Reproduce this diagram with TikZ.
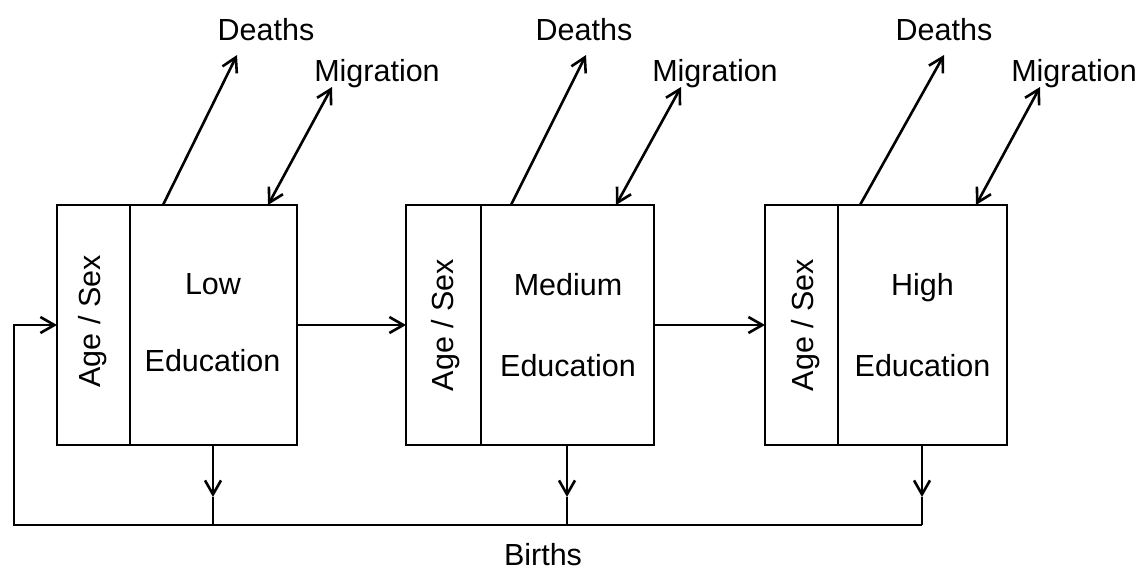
\documentclass[tikz,border=0pt]{standalone}
\usepackage{fontspec}
\setmainfont{Liberation Sans}
\usetikzlibrary{arrows.meta}
\begin{document}
\begin{tikzpicture}[x=1pt,y=-1pt,
  lbl/.style={inner sep=0pt,font=\fontsize{30.5}{36}\selectfont},
  boxpart/.style={draw,line width=1.4pt,minimum height=240pt,inner sep=0pt,outer sep=0pt,anchor=west},
  conn/.style={line width=2.6pt},
  tip/.style={-{Straight Barb[length=14pt,width=16pt]}},
  dtip/.style={{Straight Barb[length=14pt,width=16pt]}-{Straight Barb[length=14pt,width=16pt]}}
]
\useasboundingbox (0,0) rectangle (1142,570);
% boxes
\node[boxpart,minimum width=73pt] (a1) at (57,325) {};
\node[boxpart,minimum width=167pt] (e1) at (a1.east) {};
\node[boxpart,minimum width=75pt] (a2) at (406,325) {};
\node[boxpart,minimum width=173pt] (e2) at (a2.east) {};
\node[boxpart,minimum width=73pt] (a3) at (765,325) {};
\node[boxpart,minimum width=169pt] (e3) at (a3.east) {};
% box texts
\node[lbl,rotate=90] (as1) at (92.5,321.5) {Age / Sex};
\node[lbl,rotate=90] (as2) at (446,325) {Age / Sex};
\node[lbl,rotate=90] (as3) at (806,325) {Age / Sex};
\node[lbl,anchor=base] (t1a) at (213,294) {Low};
\node[lbl,anchor=base] (t1b) at (212.5,371) {Education};
\node[lbl,anchor=base] (t2a) at (568,295) {Medium};
\node[lbl,anchor=base] (t2b) at (568,376) {Education};
\node[lbl,anchor=base] (t3a) at (922.5,295) {High};
\node[lbl,anchor=base] (t3b) at (922.5,376) {Education};
% outflow labels
\node[lbl,anchor=base] (d1) at (266,40) {Deaths};
\node[lbl,anchor=base] (m1) at (377,81) {Migration};
\node[lbl,anchor=base] (d2) at (584,40) {Deaths};
\node[lbl,anchor=base] (m2) at (715,81) {Migration};
\node[lbl,anchor=base] (d3) at (944,40) {Deaths};
\node[lbl,anchor=base] (m3) at (1074,81) {Migration};
\node[lbl,anchor=base] (br) at (543,565) {Births};
% arrow end points
\coordinate (ds1) at (163,205); \coordinate (de1) at (237,55);
\coordinate (ms1) at (268,205); \coordinate (me1) at (332,87);
\coordinate (ds2) at (511,205); \coordinate (de2) at (586,55);
\coordinate (ms2) at (616,205); \coordinate (me2) at (681,87);
\coordinate (ds3) at (860,205); \coordinate (de3) at (944,55);
\coordinate (ms3) at (976,205); \coordinate (me3) at (1040,87);
\draw[conn,tip] (ds1) -- (de1);
\draw[conn,dtip] (ms1) -- (me1);
\draw[conn,tip] (ds2) -- (de2);
\draw[conn,dtip] (ms2) -- (me2);
\draw[conn,tip] (ds3) -- (de3);
\draw[conn,dtip] (ms3) -- (me3);
% transitions
\draw[conn,tip] (e1.east) -- (a2.west);
\draw[conn,tip] (e2.east) -- (a3.west);
% births
\coordinate (f1) at (213,525); \coordinate (h1) at (213,497);
\coordinate (f2) at (567,525); \coordinate (h2) at (567,497);
\coordinate (f3) at (922,525); \coordinate (h3) at (922,497);
\coordinate (c0) at (14,525); \coordinate (c1) at (14,325);
\draw[conn,tip] (e1.south -| f1) -- (h1);
\draw[conn] (h1) -- (f1);
\draw[conn,tip] (e2.south -| f2) -- (h2);
\draw[conn] (h2) -- (f2);
\draw[conn,tip] (e3.south -| f3) -- (h3);
\draw[conn] (h3) -- (f3);
\draw[conn,tip,line join=miter] (f3) -- (c0) -- (c1) -- (a1.west);
\end{tikzpicture}
\end{document}
